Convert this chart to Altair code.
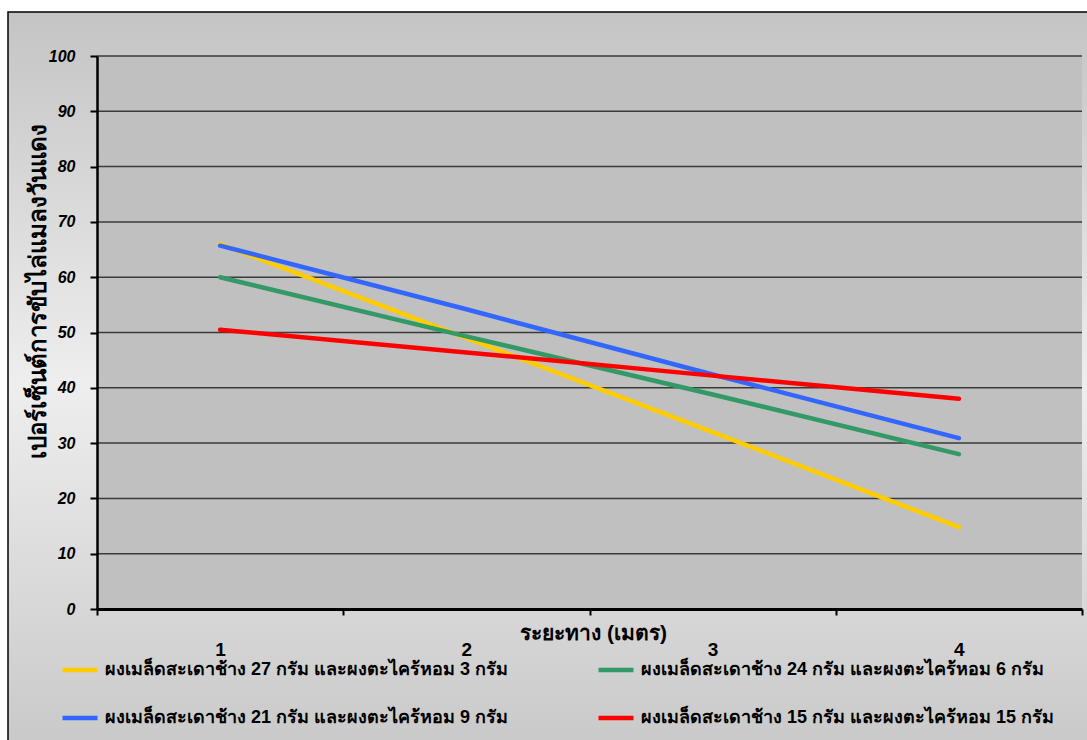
import altair as alt
import pandas as pd

# Distances (metres) along the x axis
distance = [1, 2, 3, 4]

# Series names (mix of neem seed powder and lemongrass powder)
series = [
    "ผงเมล็ดสะเดาช้าง 27 กรัม และผงตะไคร้หอม 3 กรัม",
    "ผงเมล็ดสะเดาช้าง 24 กรัม และผงตะไคร้หอม 6 กรัม",
    "ผงเมล็ดสะเดาช้าง 21 กรัม และผงตะไคร้หอม 9 กรัม",
    "ผงเมล็ดสะเดาช้าง 15 กรัม และผงตะไคร้หอม 15 กรัม",
]
colors = ["#FFCC00", "#339966", "#3366FF", "#FF0000"]

# Percent repellency of red flies at each distance
repel_27_3 = [66.0, 49.0, 32.0, 14.8]
repel_24_6 = [60.0, 49.3, 38.8, 28.0]
repel_21_9 = [65.7, 54.2, 42.4, 30.9]
repel_15_15 = [50.5, 46.4, 42.2, 38.0]

y_ticks = [0, 10, 20, 30, 40, 50, 60, 70, 80, 90, 100]
x_edges = [0.5, 1.5, 2.5, 3.5, 4.5]

rows = []
for name, vals in zip(series, [repel_27_3, repel_24_6, repel_21_9, repel_15_15]):
    for d, v in zip(distance, vals):
        rows.append({"series": name, "distance": d, "value": v})
df = pd.DataFrame(rows)

W, H = 985, 553
FONT = "Liberation Sans"

y_scale = alt.Scale(domain=[0, 100], nice=False, zero=True)
x_scale = alt.Scale(domain=[0.5, 4.5], nice=False, zero=False)

y_axis = alt.Axis(
    values=y_ticks,
    title="เปอร์เซ็นต์การขับไล่แมลงวันแดง",
    titleFont=FONT,
    titleFontSize=24,
    titleFontWeight="bold",
    titleColor="black",
    titleAngle=270,
    titleX=-59,
    titleY=235,
    titleBaseline="middle",
    titleAlign="center",
    labelFont=FONT,
    labelFontSize=16,
    labelFontStyle="italic",
    labelFontWeight="bold",
    labelColor="black",
    labelPadding=15,
    labelOverlap=False,
    tickSize=7,
    tickWidth=2,
    tickColor="black",
    domainColor="black",
    domainWidth=2.5,
    grid=False,
    zindex=1,
)

x_axis = alt.Axis(
    values=sorted(x_edges + distance),
    labelExpr="datum.value % 1 === 0 ? format(datum.value, 'd') : ''",
    tickOpacity={"condition": {"test": "datum.value % 1 === 0", "value": 0}, "value": 1},
    title="ระยะทาง  (เมตร)",
    titleFont=FONT,
    titleFontSize=21,
    titleFontWeight="bold",
    titleColor="black",
    titleX=496,
    titleY=24,
    titleBaseline="middle",
    titleAlign="center",
    labelFont=FONT,
    labelFontSize=19,
    labelFontWeight="bold",
    labelColor="black",
    labelBaseline="top",
    labelPadding=25,
    labelFlush=False,
    labelOverlap=False,
    labelBound=False,
    tickSize=6,
    tickWidth=2,
    tickColor="black",
    domainColor="black",
    domainWidth=3,
    grid=False,
    zindex=1,
)

one = pd.DataFrame({"k": [0]})

gradient = alt.LinearGradient(
    gradient="linear",
    stops=[
        alt.GradientStop(color="#c4c4c4", offset=0),
        alt.GradientStop(color="#eeeeee", offset=0.5),
        alt.GradientStop(color="#c8c8c8", offset=1),
    ],
    x1=0, x2=0, y1=0, y2=1,
)

frame = alt.Chart(one).mark_rect(fill=gradient, stroke="black", strokeWidth=1.5).encode(
    x=alt.value(-89), x2=alt.value(1000), y=alt.value(-44), y2=alt.value(700)
)

plot_bg = alt.Chart(one).mark_rect(fill="#C0C0C0").encode(
    x=alt.value(0), x2=alt.value(W), y=alt.value(0), y2=alt.value(H)
)

grid = alt.Chart(pd.DataFrame({"value": y_ticks[1:]})).mark_rule(
    color="#3a3a3a", strokeWidth=1.5
).encode(
    y=alt.Y("value:Q", scale=y_scale, axis=y_axis),
    x=alt.value(0),
    x2=alt.value(W),
)

lines = alt.Chart(df).mark_line(strokeWidth=4.5, strokeCap="round").encode(
    x=alt.X("distance:Q", scale=x_scale, axis=x_axis),
    y=alt.Y("value:Q", scale=y_scale, axis=y_axis),
    color=alt.Color(
        "series:N",
        sort=series,
        scale=alt.Scale(domain=series, range=colors),
        legend=alt.Legend(
            title=None,
            orient="none",
            legendX=-37,
            legendY=594,
            columns=2,
            direction="horizontal",
            symbolType="stroke",
            symbolSize=1225,
            symbolStrokeWidth=4.5,
            labelFont=FONT,
            labelFontSize=18,
            labelFontWeight="bold",
            labelColor="black",
            labelLimit=700,
            labelOffset=5,
            rowPadding=19,
            columnPadding=80,
        ),
    ),
)

chart = (
    alt.layer(frame, plot_bg, grid, lines)
    .properties(
        width=W,
        height=H,
        autosize=alt.AutoSizeParams(type="none"),
        padding={"left": 97, "top": 56, "right": 5, "bottom": 131},
        background="white",
    )
    .configure_view(stroke=None)
)

chart.save("out.html", embed_options={"renderer": "svg", "actions": False})
